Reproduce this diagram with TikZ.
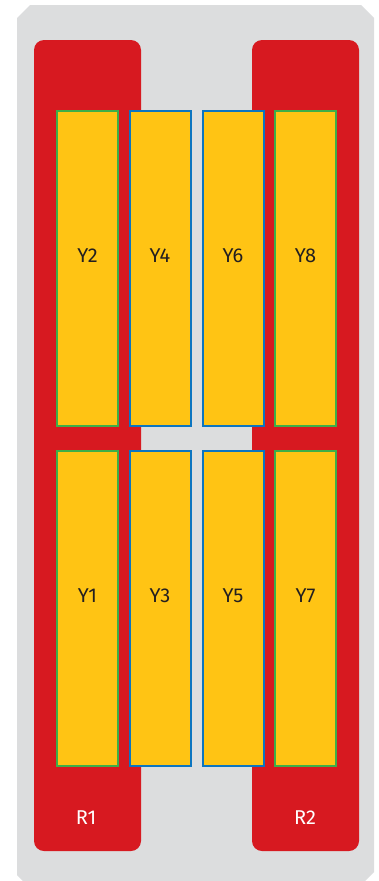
\documentclass[tikz,border=0pt]{standalone}
\usepackage{fontspec}
\setmainfont{Fira Sans}
\usepackage{tikz}
\usepackage{xcolor}
\definecolor{panelgrey}{RGB}{220, 221, 222}
\definecolor{railred}{RGB}{215, 25, 32}
\definecolor{slotyellow}{RGB}{255, 196, 20}
\definecolor{slotgreen}{RGB}{61, 174, 73}
\definecolor{slotblue}{RGB}{12, 117, 192}
\definecolor{labeldark}{RGB}{35, 31, 32}
\tikzset{
  rail/.style={fill=railred, rounded corners=10pt, minimum width=107pt, minimum height=811pt, inner sep=0pt},
  slot/.style={fill=slotyellow, line width=2pt, minimum width=61pt, minimum height=315pt, inner sep=0pt},
  slotlabel/.style={text=labeldark, font=\fontsize{20}{24}\selectfont, inner sep=0pt},
  raillabel/.style={text=white, font=\fontsize{20}{24}\selectfont, inner sep=0pt}
}

\begin{document}
\begin{tikzpicture}[x=1pt, y=-1pt]
    \useasboundingbox (0, 0) rectangle (378, 881);
    \fill[panelgrey] (30, 5) -- (361, 5) -- (374, 18) -- (374, 872) -- (361, 885)
      -- (30, 888) -- (17, 875) -- (17, 18) -- cycle;
    \node[rail] (r1) at (87.5, 445.5) {};
    \node[rail] (r2) at (305.5, 445.5) {};
    \node[raillabel] (l1) at (86, 818) {R1};
    \node[raillabel] (l2) at (305, 818) {R2};
    \node[slot, draw=slotgreen] (y2) at (87.5, 268.5) {};
    \node[slot, draw=slotblue] (y4) at (160, 268.5) {};
    \node[slot, draw=slotblue] (y6) at (233, 268.5) {};
    \node[slot, draw=slotgreen] (y8) at (305.5, 268.5) {};
    \node[slot, draw=slotgreen] (y1) at (87.5, 608.5) {};
    \node[slot, draw=slotblue] (y3) at (160, 608.5) {};
    \node[slot, draw=slotblue] (y5) at (233, 608.5) {};
    \node[slot, draw=slotgreen] (y7) at (305.5, 608.5) {};
    \node[slotlabel] at ([yshift=12.5pt]y2.center) {Y2};
    \node[slotlabel] at ([yshift=12.5pt]y4.center) {Y4};
    \node[slotlabel] at ([yshift=12.5pt]y6.center) {Y6};
    \node[slotlabel] at ([yshift=12.5pt]y8.center) {Y8};
    \node[slotlabel] at ([yshift=12.5pt]y1.center) {Y1};
    \node[slotlabel] at ([yshift=12.5pt]y3.center) {Y3};
    \node[slotlabel] at ([yshift=12.5pt]y5.center) {Y5};
    \node[slotlabel] at ([yshift=12.5pt]y7.center) {Y7};
  \end{tikzpicture}
\end{document}
